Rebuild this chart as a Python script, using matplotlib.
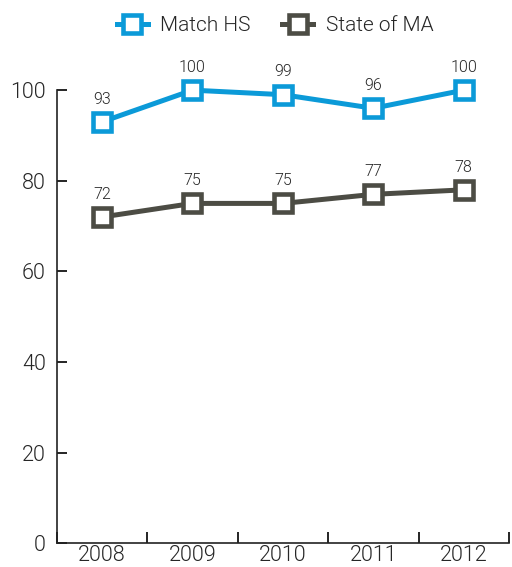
import matplotlib.pyplot as plt
from matplotlib.ticker import FixedLocator, NullFormatter

years = ['2008', '2009', '2010', '2011', '2012']
match_hs = [93, 100, 99, 96, 100]
state_ma = [72, 75, 75, 77, 78]

blue = '#0b9ad8'
gray = '#4c4c44'
txt = '#262626'

plt.rcParams['font.family'] = ['Roboto', 'DejaVu Sans']
plt.rcParams['font.weight'] = 300

fig = plt.figure(figsize=(5.12, 5.67), dpi=100)
ax = fig.add_axes([0.111, 0.042, 0.883, 0.799])

x = list(range(len(years)))
style = dict(marker='s', markersize=13, markeredgewidth=3.3,
             markerfacecolor='white', linewidth=3.6, clip_on=False, zorder=3)
ax.plot(x, match_hs, color=blue, label='Match HS', **style)
ax.plot(x, state_ma, color=gray, label='State of MA', **style)

for xi, v in zip(x, match_hs):
    ax.annotate(str(v), (xi, v), xytext=(0, 11), textcoords='offset points',
                ha='center', va='bottom', fontsize=11.5, color=txt)
for xi, v in zip(x, state_ma):
    ax.annotate(str(v), (xi, v), xytext=(0, 11), textcoords='offset points',
                ha='center', va='bottom', fontsize=11.5, color=txt)

ax.set_xlim(-0.5, len(years) - 0.5)
ax.set_ylim(0, 100)
ax.set_yticks(range(0, 101, 20))
ax.tick_params(axis='y', direction='in', length=7, width=1.2, labelsize=15.5,
               labelcolor=txt, pad=8)

# category labels centred, ticks at category borders
ax.xaxis.set_major_locator(FixedLocator([i + 0.5 for i in range(-1, len(years))]))
ax.xaxis.set_major_formatter(NullFormatter())
ax.xaxis.set_minor_locator(FixedLocator(x))
ax.set_xticklabels(years, minor=True)
ax.tick_params(axis='x', which='major', direction='in', length=8, width=1.2)
ax.tick_params(axis='x', which='minor', length=0, labelsize=15.5,
               labelcolor=txt, pad=1)

for s in ['top', 'right']:
    ax.spines[s].set_visible(False)
for s in ['left', 'bottom']:
    ax.spines[s].set_linewidth(1.2)
    ax.spines[s].set_color('#222222')

fig.legend(loc='center', bbox_to_anchor=(0.537, 0.955), ncol=2, frameon=False,
           fontsize=15, handlelength=1.5, columnspacing=1.5, handletextpad=0.6,
           labelcolor=txt)

fig.savefig('out.png', dpi=100)
